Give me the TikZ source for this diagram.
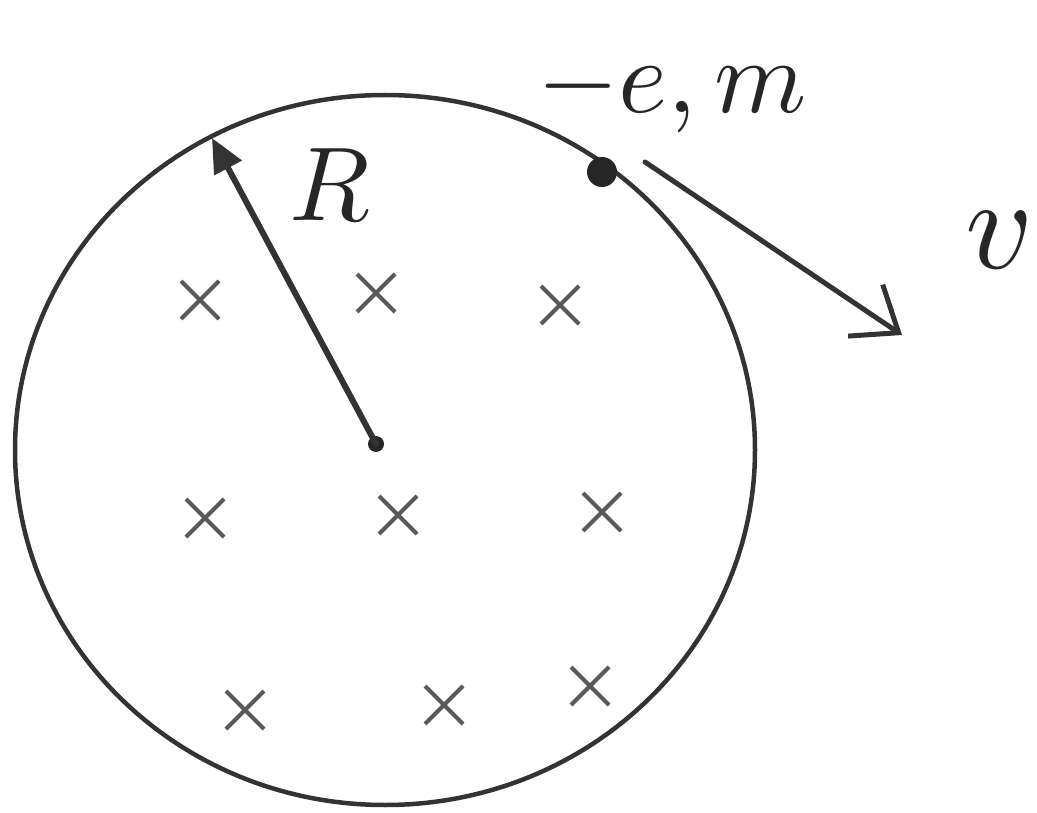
\documentclass[tikz,border=0pt]{standalone}
\usetikzlibrary{arrows.meta,shapes.misc}
\begin{document}
\begin{tikzpicture}[x=1pt,y=-1pt,
  ink/.style={draw=black!80,line width=5pt,line cap=round},
  crossmark/.style={draw=black!65,cross out,line width=4pt,minimum size=34pt,inner sep=0pt},
  lab/.style={text=black!85,scale=10.5,inner sep=0pt},
  dotmark/.style={circle,fill=black!85,inner sep=0pt}]
\useasboundingbox (0,0) rectangle (1037,813);
% field boundary
\draw[ink,line width=4.5pt] (385,450) ellipse [x radius=370, y radius=355];
% centre and radius
\node[dotmark,minimum size=16pt] (o) at (376,444) {};
\coordinate (rtip) at (212,138);
\draw[ink,line width=6pt,-{Triangle[length=34pt,width=30pt]}] (o.center) -- (rtip);
\node[lab] (R) at (330,185) {$R$};
% charge
\node[dotmark,minimum size=30pt] (q) at (602,172) {};
\node[lab] (qlab) at (672,92) {$-e,m$};
% velocity
\coordinate (vs) at (645,162);
\coordinate (ve) at (902,335);
\draw[ink,-{Straight Barb[length=40pt,width=62pt,line width=5pt]}] (vs) -- (ve);
\node[lab,scale=1.25] (v) at (1000,240) {$v$};
% field crosses
\node[crossmark] (c1) at (200,300) {};
\node[crossmark] (c2) at (376,293) {};
\node[crossmark] (c3) at (560,305) {};
\node[crossmark] (c4) at (205,518) {};
\node[crossmark] (c5) at (398,515) {};
\node[crossmark] (c6) at (602,512) {};
\node[crossmark] (c7) at (245,710) {};
\node[crossmark] (c8) at (444,705) {};
\node[crossmark] (c9) at (590,686) {};
\end{tikzpicture}
\end{document}
